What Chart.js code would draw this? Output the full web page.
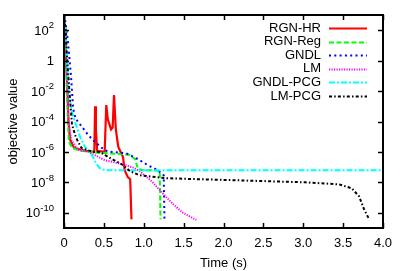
<!DOCTYPE html>
<html><head><meta charset="utf-8">
<script src="https://cdn.jsdelivr.net/npm/chart.js@4.4.1/dist/chart.umd.min.js"></script>
<style>html,body{margin:0;padding:0;background:#fff}canvas{display:block}</style>
</head><body>
<canvas id="c" width="407" height="271"></canvas>
<script>
// ---- data (time in seconds, objective value) ----
const seriesNames = ['RGN-HR', 'RGN-Reg', 'GNDL', 'LM', 'GNDL-PCG', 'LM-PCG'];

const timeRgnHr = [0, 0.02, 0.025, 0.044, 0.056, 0.075, 0.125, 0.26, 0.38, 0.39, 0.40, 0.415, 0.51, 0.53, 0.55, 0.59, 0.61, 0.627, 0.65, 0.68, 0.71, 0.74, 0.76, 0.80, 0.83, 0.846];
const objRgnHr  = [1e3, 1e2, 1, 1e-2, 1e-4, 6.3e-6, 1.9e-6, 1.2e-6, 1e-6, 1e-3, 3e-5, 1.2e-6, 1e-6, 1.2e-3, 1.35e-4, 3e-5, 4e-5, 5.4e-3, 3e-5, 2.2e-6, 1e-6, 4.6e-7, 6.3e-8, 2.2e-8, 1.6e-8, 3.7e-11];

const timeRgnReg = [0, 0.015, 0.025, 0.035, 0.048, 0.062, 0.1, 0.2, 0.45, 0.7, 0.825, 0.89, 0.925, 0.975, 1.14, 1.2, 1.21];
const objRgnReg  = [1e3, 1e2, 1, 1e-2, 1e-4, 4.6e-6, 1.9e-6, 1.2e-6, 8.6e-7, 7.4e-7, 6.3e-7, 3.4e-7, 8.6e-8, 6.3e-8, 6.3e-8, 5.4e-8, 3.7e-11];

const timeGndl = [0, 0.02, 0.05, 0.0875, 0.116, 0.146, 0.22, 0.3, 0.36, 0.47, 0.55, 0.78, 0.925, 1.05, 1.175, 1.25, 1.26];
const objGndl  = [1e3, 3e2, 18, 0.1, 6.3e-4, 1.5e-4, 4.9e-5, 1.35e-5, 6.3e-6, 1.9e-6, 1.05e-6, 8.2e-7, 3.4e-7, 1.35e-7, 6.3e-8, 2.9e-8, 3.4e-11];

const timeLm = [0, 0.012, 0.03, 0.044, 0.056, 0.09, 0.175, 0.3, 0.51, 0.72, 0.88, 0.95, 1.1, 1.24, 1.36, 1.49, 1.66];
const objLm  = [1e3, 1e2, 1, 1e-2, 1e-4, 6.3e-6, 1.35e-6, 1.05e-6, 2.9e-7, 1.6e-7, 9e-8, 5.4e-8, 1.17e-8, 1.85e-9, 4e-10, 1e-10, 3.4e-11];

const timeGndlPcg = [0, 0.02, 0.04, 0.06, 0.09, 0.14, 0.2, 0.26, 0.35, 0.4, 0.45, 0.51, 4.0];
const objGndlPcg  = [1e3, 1e2, 1, 1e-2, 6.3e-4, 8.6e-5, 1e-5, 2.2e-6, 6.3e-7, 1.85e-7, 8.6e-8, 6.3e-8, 6.3e-8];

const timeLmPcg = [0, 0.02, 0.04, 0.054, 0.1, 0.15, 0.22, 0.35, 0.45, 0.575, 0.72, 0.83, 0.95, 1.26, 1.7, 2.2, 3.03, 3.45, 3.61, 3.7, 3.76, 3.83];
const objLmPcg  = [1e3, 1e2, 1, 0.1, 6.3e-5, 8.6e-6, 1.8e-6, 1.05e-6, 1e-6, 4e-7, 1.6e-7, 5.4e-8, 2.9e-8, 1.9e-8, 1.6e-8, 1.35e-8, 1e-8, 7.4e-9, 4e-9, 1.2e-9, 1.85e-10, 3.4e-11];

// ---- axes ----
const xTickValues = [0, 0.5, 1, 1.5, 2, 2.5, 3, 3.5, 4];
const yTickValues = [1e2, 1, 1e-2, 1e-4, 1e-6, 1e-8, 1e-10];
const yTickBase = ['10', '1', '10', '10', '10', '10', '10'];
const yTickExp  = ['2', '', '-2', '-4', '-6', '-8', '-10'];
const xTitle = 'Time (s)';
const yTitle = 'objective value';

// ---- styles ----
const FONT = '"Liberation Sans", Arial, Helvetica, sans-serif';
const colors = ['#ff0000', '#00ff00', '#0000ff', '#ff00ff', '#00ffff', '#000000'];
const dashes = [[], [5, 2.5], [2, 3.3], [1.2, 1.3], [6, 2, 2, 2], [3, 2.2, 1.5, 2.2]];

const times = [timeRgnHr, timeRgnReg, timeGndl, timeLm, timeGndlPcg, timeLmPcg];
const objs  = [objRgnHr, objRgnReg, objGndl, objLm, objGndlPcg, objLmPcg];

const datasets = seriesNames.map((name, i) => ({
  label: name,
  data: times[i].map((t, k) => ({ x: t, y: objs[i][k] })),
  borderColor: colors[i],
  backgroundColor: colors[i],
  borderDash: dashes[i],
  borderWidth: i === 0 ? 2.2 : 2,
  pointRadius: 0,
  tension: 0,
  fill: false,
  order: seriesNames.length - i
}));

const TICK = 5;
const gnuPlugin = {
  id: 'gnu',
  afterDraw(chart) {
    const { ctx, chartArea: a, scales: { x, y } } = chart;
    ctx.save();
    ctx.setLineDash([]);
    ctx.strokeStyle = '#000';
    ctx.lineWidth = 1.5;
    ctx.beginPath();
    xTickValues.forEach(v => {
      const px = Math.round(x.getPixelForValue(v)) + 0.5;
      ctx.moveTo(px, a.bottom); ctx.lineTo(px, a.bottom - TICK);
      ctx.moveTo(px, a.top); ctx.lineTo(px, a.top + TICK);
    });
    yTickValues.forEach(v => {
      const py = Math.round(y.getPixelForValue(v)) + 0.5;
      ctx.moveTo(a.left, py); ctx.lineTo(a.left + TICK, py);
      ctx.moveTo(a.right, py); ctx.lineTo(a.right - TICK, py);
    });
    ctx.stroke();
    ctx.lineWidth = 2;
    ctx.strokeRect(a.left, a.top, a.right - a.left, a.bottom - a.top);

    // y tick labels with superscripts
    ctx.fillStyle = '#000';
    ctx.textBaseline = 'alphabetic';
    ctx.textAlign = 'right';
    const rightEdge = a.left - 10;
    yTickValues.forEach((v, i) => {
      const py = y.getPixelForValue(v);
      const base = py + 4.7;
      let xr = rightEdge;
      if (yTickExp[i]) {
        ctx.font = '9.5px ' + FONT;
        ctx.fillText(yTickExp[i], xr, base - 6.5);
        xr -= ctx.measureText(yTickExp[i]).width;
      }
      ctx.font = '13px ' + FONT;
      ctx.fillText(yTickBase[i], xr, base);
    });

    // legend
    ctx.font = '13px ' + FONT;
    ctx.textAlign = 'right';
    ctx.textBaseline = 'middle';
    const ly0 = 28, lstep = 13.6;
    seriesNames.forEach((name, i) => {
      const ly = ly0 + i * lstep;
      ctx.fillStyle = '#000';
      ctx.fillText(name, 321, ly);
      ctx.strokeStyle = colors[i];
      ctx.lineWidth = 2;
      ctx.setLineDash(dashes[i]);
      ctx.beginPath();
      ctx.moveTo(329, Math.round(ly) + 0.5);
      ctx.lineTo(367, Math.round(ly) + 0.5);
      ctx.stroke();
    });
    ctx.restore();
  }
};

new Chart(document.getElementById('c'), {
  type: 'line',
  data: { datasets },
  options: {
    responsive: false,
    animation: false,
    devicePixelRatio: 1,
    layout: { padding: { left: 0, right: 24, top: 15, bottom: 0 } },
    plugins: { legend: { display: false }, tooltip: { enabled: false } },
    scales: {
      x: {
        type: 'linear', min: 0, max: 4,
        afterBuildTicks: s => { s.ticks = xTickValues.map(v => ({ value: v })); },
        ticks: { padding: 8, color: '#000', font: { family: FONT, size: 13 }, maxRotation: 0, autoSkip: false },
        grid: { display: false, drawTicks: false },
        border: { display: false },
        title: { display: true, text: xTitle, color: '#000', font: { family: FONT, size: 13 }, padding: { top: 0, bottom: 0 } },
        afterFit: s => { s.height = 43; }
      },
      y: {
        type: 'logarithmic', min: 1e-11, max: 1e3,
        afterBuildTicks: s => { s.ticks = yTickValues.map(v => ({ value: v })); },
        ticks: { display: false },
        grid: { display: false, drawTicks: false },
        border: { display: false },
        title: { display: true, text: yTitle, color: '#000', font: { family: FONT, size: 13 }, padding: { top: 6, bottom: 0 } },
        afterFit: s => { s.width = 64; }
      }
    }
  },
  plugins: [gnuPlugin]
});
</script>
</body></html>
